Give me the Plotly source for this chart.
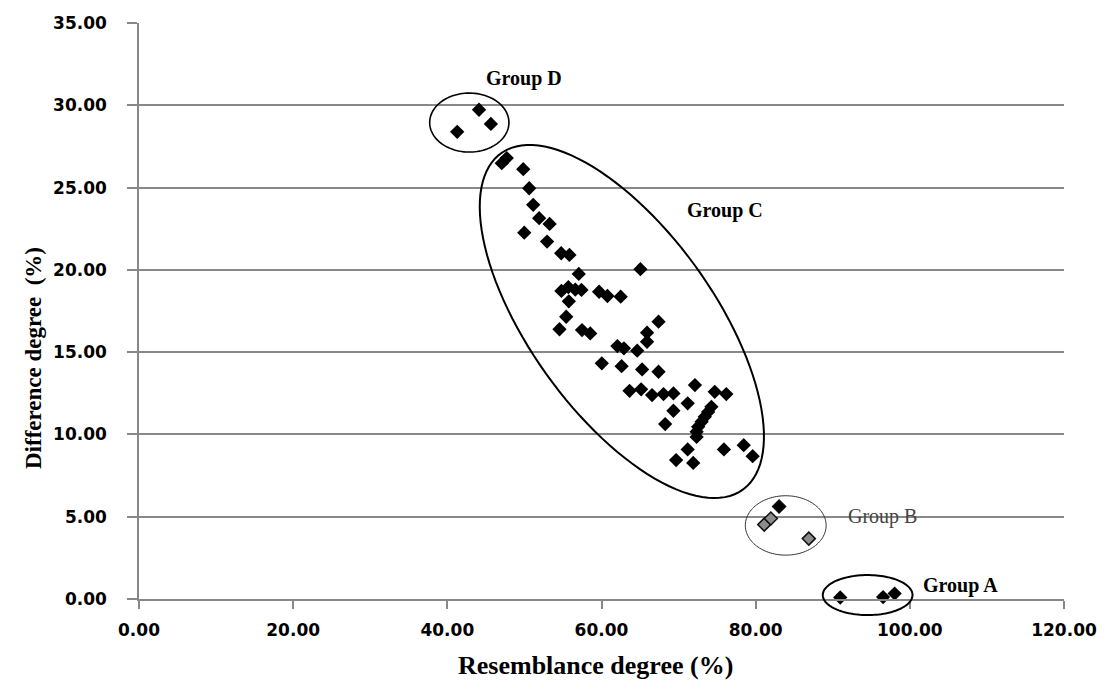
import numpy as np
import plotly.graph_objects as go

# ---------------- data ----------------
group_a_x = [90.97, 96.53, 98.03]
group_a_y = [0.09, 0.12, 0.33]

group_b_x = [83.04, 81.11, 81.97, 86.89]
group_b_y = [5.62, 4.52, 4.89, 3.67]
group_b_fill = ["#000000", "#8c8c8c", "#8c8c8c", "#8c8c8c"]

group_c_x = [47.06, 47.71, 49.85, 50.62, 51.14, 51.91, 53.27, 49.98, 52.94, 54.77,
             55.84, 57.05, 65.05, 54.80, 55.70, 56.60, 57.40, 59.69, 60.77, 62.49,
             55.76, 55.42, 54.55, 57.47, 58.54, 67.40, 65.91, 65.91, 62.06, 62.91,
             64.63, 60.04, 62.61, 65.27, 67.40, 72.12, 63.64, 65.14, 66.56, 68.05,
             69.33, 74.69, 76.19, 71.18, 69.33, 68.26, 74.26, 73.83, 73.40, 72.98,
             72.54, 72.34, 72.34, 71.18, 69.68, 71.90, 75.88, 78.45, 79.61]
group_c_y = [26.48, 26.79, 26.12, 24.96, 23.95, 23.14, 22.79, 22.26, 21.72, 21.01,
             20.91, 19.75, 20.04, 18.72, 18.95, 18.80, 18.78, 18.67, 18.41, 18.37,
             18.09, 17.15, 16.39, 16.34, 16.14, 16.85, 16.18, 15.63, 15.37, 15.23,
             15.09, 14.32, 14.15, 13.95, 13.81, 13.00, 12.65, 12.74, 12.39, 12.45,
             12.49, 12.59, 12.45, 11.89, 11.44, 10.63, 11.68, 11.37, 11.07, 10.77,
             10.46, 10.16, 9.85, 9.09, 8.44, 8.27, 9.09, 9.35, 8.68]

group_d_x = [41.28, 44.11, 45.65]
group_d_y = [28.39, 29.73, 28.87]

x_ticks = [0, 20, 40, 60, 80, 100, 120]
y_ticks = [0, 5, 10, 15, 20, 25, 30, 35]
x_range = [0, 120]
y_range = [0, 35]

# ---------------- layout geometry ----------------
W, H = 1109, 681
ML, MT = 139, 23
PW, PH = 934, 576
MR = W - ML - PW
MB = H - MT - PH

TICK_FONT = dict(family="DejaVu Sans", size=17, color="#000000", weight="bold")
SERIF = "Liberation Serif"

def paper_x(px):
    return (px - ML) / PW

def paper_y(py):
    return (MT + PH - py) / PH

fig = go.Figure()

marker_base = dict(symbol="diamond", size=11, color="#000000", line=dict(width=0))
for xs, ys in [(group_a_x, group_a_y), (group_c_x, group_c_y), (group_d_x, group_d_y)]:
    fig.add_trace(go.Scatter(x=xs, y=ys, mode="markers", marker=marker_base,
                             showlegend=False, cliponaxis=False, hoverinfo="x+y"))

fig.add_trace(go.Scatter(x=group_b_x, y=group_b_y, mode="markers",
                         marker=dict(symbol="diamond", size=10, color=group_b_fill,
                                     line=dict(width=1.5, color="#111111")),
                         showlegend=False, cliponaxis=False, hoverinfo="x+y"))

# ---------------- ellipses (paper coordinates) ----------------
def ellipse_path(cx, cy, a_px, b_px, theta_deg, n=120):
    """cx, cy in data units; semi-axes in screen pixels; theta clockwise on screen."""
    t = np.linspace(0, 2 * np.pi, n)
    th = np.radians(theta_deg)
    dx = a_px * np.cos(t) * np.cos(th) - b_px * np.sin(t) * np.sin(th)
    dy = a_px * np.cos(t) * np.sin(th) + b_px * np.sin(t) * np.cos(th)
    px0 = (cx - x_range[0]) / (x_range[1] - x_range[0])
    py0 = (cy - y_range[0]) / (y_range[1] - y_range[0])
    xs = px0 + dx / PW
    ys = py0 - dy / PH
    pts = [f"{x:.5f},{y:.5f}" for x, y in zip(xs, ys)]
    return "M" + " L".join(pts) + " Z"

ellipses = [
    # cx, cy, a, b, angle, line width, color
    (62.64, 16.86, 207.8, 92.6, 53.9, 2.0, "#000000"),   # Group C
    (42.85, 28.95, 40.0, 29.5, 0.0, 1.6, "#000000"),     # Group D
    (83.90, 4.47, 40.8, 29.7, 0.0, 1.0, "#333333"),      # Group B
    (94.53, 0.24, 45.3, 20.0, 0.0, 2.0, "#000000"),      # Group A
]
for cx, cy, a, b, ang, lw, col in ellipses:
    fig.add_shape(type="path", xref="paper", yref="paper",
                  path=ellipse_path(cx, cy, a, b, ang),
                  line=dict(color=col, width=lw), fillcolor="rgba(0,0,0,0)", layer="above")

# ---------------- group labels ----------------
labels = [
    ("Group D", 50.0, 31.6, True, "#000000"),
    ("Group C", 76.0, 23.6, True, "#000000"),
    ("Group B", 96.5, 5.0, False, "#444444"),
    ("Group A", 106.6, 0.85, True, "#000000"),
]
for txt, lx, ly, bold, col in labels:
    fig.add_annotation(x=lx, y=ly, xref="x", yref="y", showarrow=False,
                       xanchor="center", yanchor="middle",
                       text=f"<b>{txt}</b>" if bold else txt,
                       font=dict(family=SERIF, size=20, color=col))

# axis titles
fig.add_annotation(x=paper_x(600), y=paper_y(665), xref="paper", yref="paper",
                   showarrow=False, xanchor="center", yanchor="middle",
                   text="<b>Resemblance degree (%)</b>",
                   font=dict(family=SERIF, size=26, color="#000000"))
fig.add_annotation(x=paper_x(32), y=paper_y(358), xref="paper", yref="paper",
                   showarrow=False, xanchor="center", yanchor="middle", textangle=-90,
                   text="<b>Difference degree  (%)</b>",
                   font=dict(family=SERIF, size=23, color="#000000"))

fig.update_layout(
    width=W, height=H, autosize=False,
    margin=dict(l=ML, r=MR, t=MT, b=MB),
    paper_bgcolor="white", plot_bgcolor="white",
    showlegend=False,
    xaxis=dict(range=x_range, tickvals=x_ticks,
               ticktext=[f"{v:.2f}" for v in x_ticks],
               showgrid=False, zeroline=False, showline=True,
               linecolor="#888888", linewidth=1.5,
               ticks="outside", ticklen=8, tickwidth=1.5, tickcolor="#888888",
               tickfont=TICK_FONT, ticklabelstandoff=7, ticklabeloverflow="allow"),
    yaxis=dict(range=y_range, tickvals=y_ticks,
               ticktext=[f"{v:.2f}" for v in y_ticks],
               showgrid=True, gridcolor="#888888", gridwidth=1.5,
               zeroline=False, showline=True,
               linecolor="#888888", linewidth=1.5,
               ticks="outside", ticklen=10, tickwidth=1.5, tickcolor="#888888",
               tickfont=TICK_FONT, ticklabelstandoff=17),
)

fig.write_html("out.html", config={"displayModeBar": False},
               post_script="document.body.style.margin='0';document.body.style.overflow='hidden';")
